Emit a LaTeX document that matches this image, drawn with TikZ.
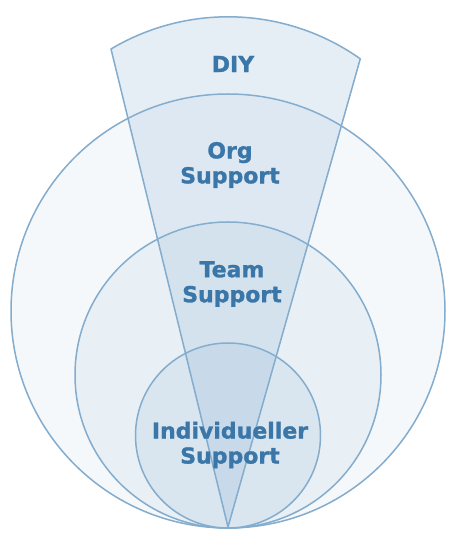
\documentclass[tikz,border=0pt]{standalone}
\usepackage{fontspec}
\setmainfont{DejaVu Sans}[BoldFeatures={FakeBold=1.2}]
\definecolor{edge}{HTML}{84ACCD}
\definecolor{fillA}{HTML}{F5F8FB}
\definecolor{fillB}{HTML}{E8F0F6}
\definecolor{fillC}{HTML}{D9E6F0}
\definecolor{wedgec}{HTML}{8DB3D3}
\definecolor{txt}{HTML}{3A76A7}
\begin{document}
\begin{tikzpicture}[x=1pt,y=1pt,
  ring/.style={draw=edge,line width=1.5pt},
  lbl/.style={font=\bfseries\fontsize{22}{25}\selectfont,text=txt,align=center,inner sep=0pt}]
\useasboundingbox (0,0) rectangle (460,546);
\fill[white] (0,0) rectangle (460,546);
\node[circle,ring,fill=fillA,minimum size=434pt,inner sep=0pt] (big) at (228,235) {};
\node[circle,ring,fill=fillB,minimum size=306pt,inner sep=0pt] (mid) at (228,171) {};
\node[circle,ring,fill=fillC,minimum size=185pt,inner sep=0pt] (small) at (228,110.5) {};
\coordinate (apex) at (228,19);
\coordinate (tl) at (111,497);
\fill[wedgec,fill opacity=0.22] (apex) -- (tl) arc[start angle=120.75,end angle=54.74,radius=229] -- cycle;
\draw[ring,line join=round] (apex) -- (tl) arc[start angle=120.75,end angle=54.74,radius=229] -- cycle;
\node[lbl] (diy) at (233,482) {DIY};
\node[lbl] (org) at (230,381) {Org\\Support};
\node[lbl] (team) at (232,262) {Team\\Support};
\node[lbl] (ind) at (230,101) {Individueller\\Support};
\end{tikzpicture}
\end{document}
